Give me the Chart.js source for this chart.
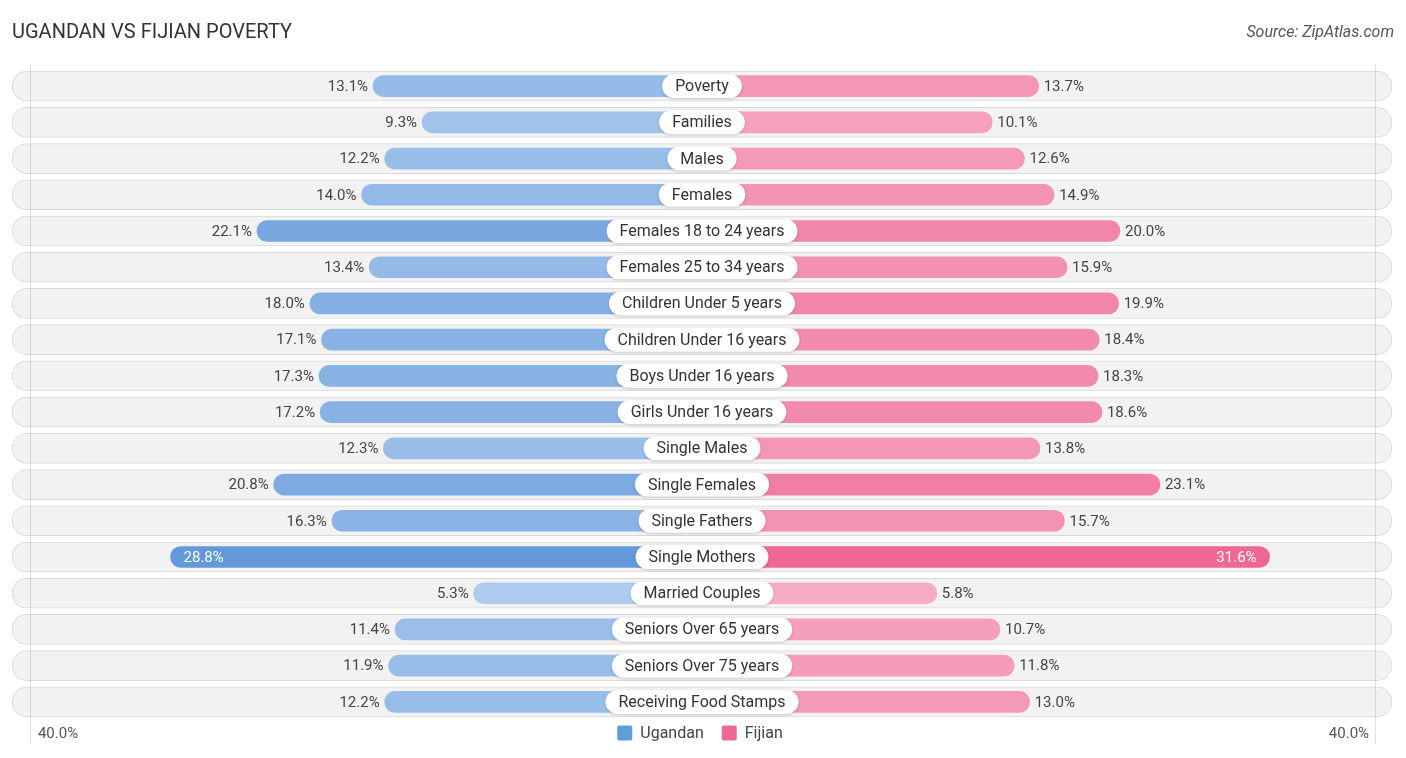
<!DOCTYPE html>
<html>
<head>
<meta charset="utf-8">
<script src="https://cdn.jsdelivr.net/npm/chart.js@4.4.1/dist/chart.umd.min.js"></script>
<style>
  html, body { margin: 0; padding: 0; background: #ffffff; }
  #wrap { width: 1406px; height: 758px; position: relative; }
  canvas { display: block; }
</style>
</head>
<body>
<div id="wrap"><canvas id="c" width="1406" height="758"></canvas></div>
<script>
const titleText = 'UGANDAN VS FIJIAN POVERTY';
const sourceText = 'Source: ZipAtlas.com';
const categories = ['Poverty', 'Families', 'Males', 'Females', 'Females 18 to 24 years', 'Females 25 to 34 years',
  'Children Under 5 years', 'Children Under 16 years', 'Boys Under 16 years', 'Girls Under 16 years',
  'Single Males', 'Single Females', 'Single Fathers', 'Single Mothers', 'Married Couples',
  'Seniors Over 65 years', 'Seniors Over 75 years', 'Receiving Food Stamps'];
const seriesNames = ['Ugandan', 'Fijian'];
const ugandan = [13.1, 9.3, 12.2, 14.0, 22.1, 13.4, 18.0, 17.1, 17.3, 17.2, 12.3, 20.8, 16.3, 28.8, 5.3, 11.4, 11.9, 12.2];
const fijian = [13.7, 10.1, 12.6, 14.9, 20.0, 15.9, 19.9, 18.4, 18.3, 18.6, 13.8, 23.1, 15.7, 31.6, 5.8, 10.7, 11.8, 13.0];
const axisMax = 40;
const tickLabels = ['40.0%', '40.0%'];

// layout constants (visual)
const OFFSET = 12.4;   // hidden part of bar under the centre label, in value units
const HALF = 53.49;    // half range of the value axis
const GRID = 52.1;     // position of the faint edge grid lines
const legendColors = ['rgb(98,156,218)', 'rgb(240,103,146)'];

const maxVal = Math.max(...ugandan, ...fijian);
function mix(light, dark, t) {
  const c = light.map((l, i) => Math.round(l + (dark[i] - l) * t));
  return `rgb(${c[0]},${c[1]},${c[2]})`;
}
const blueL = [190, 215, 243], blueD = [90, 147, 216];
const pinkL = [248, 188, 208], pinkD = [239, 103, 146];
const ugColors = ugandan.map(v => mix(blueL, blueD, v / maxVal));
const fjColors = fijian.map(v => mix(pinkL, pinkD, v / maxVal));

const decorPlugin = {
  id: 'decor',
  afterDatasetsDraw(chart) {
    const ctx = chart.ctx;
    const xs = chart.scales.x, ys = chart.scales.y;
    const area = chart.chartArea;
    const gl = xs.getPixelForValue(-GRID);
    const gr = xs.getPixelForValue(GRID) + 1;
    ctx.save();
    ctx.strokeStyle = 'rgba(0,0,0,0.12)';
    ctx.lineWidth = 1;
    [gl, gr].forEach(x => {
      ctx.beginPath();
      ctx.moveTo(Math.round(x) + 0.5, area.top - 4);
      ctx.lineTo(Math.round(x) + 0.5, area.bottom + 24);
      ctx.stroke();
    });
    ctx.restore();

    const cx = xs.getPixelForValue(0);
    categories.forEach((cat, i) => {
      const y = ys.getPixelForValue(i);
      ctx.save();
      ctx.font = '15px Roboto';
      ctx.textBaseline = 'middle';
      const uv = ugandan[i], fv = fijian[i];
      const ux = xs.getPixelForValue(-(OFFSET + uv));
      const fx = xs.getPixelForValue(OFFSET + fv);
      if (uv > 25) {
        ctx.fillStyle = '#ffffff';
        ctx.textAlign = 'left';
        ctx.fillText(uv.toFixed(1) + '%', ux + 13, y + 1);
      } else {
        ctx.fillStyle = '#444444';
        ctx.textAlign = 'right';
        ctx.fillText(uv.toFixed(1) + '%', ux - 5, y + 1);
      }
      if (fv > 25) {
        ctx.fillStyle = '#ffffff';
        ctx.textAlign = 'right';
        ctx.fillText(fv.toFixed(1) + '%', fx - 13, y + 1);
      } else {
        ctx.fillStyle = '#444444';
        ctx.textAlign = 'left';
        ctx.fillText(fv.toFixed(1) + '%', fx + 5, y + 1);
      }
      ctx.restore();

      ctx.save();
      ctx.font = '16px Roboto';
      const tw = ctx.measureText(cat).width;
      const w = tw + 26, h = 24;
      const x0 = cx - w / 2, y0 = y - h / 2;
      ctx.shadowColor = 'rgba(0,0,0,0.18)';
      ctx.shadowBlur = 3;
      ctx.shadowOffsetY = 1;
      ctx.fillStyle = '#ffffff';
      ctx.beginPath();
      ctx.roundRect(x0, y0, w, h, h / 2);
      ctx.fill();
      ctx.shadowColor = 'transparent';
      ctx.fillStyle = '#333333';
      ctx.textAlign = 'center';
      ctx.textBaseline = 'middle';
      ctx.fillText(cat, cx, y + 1);
      ctx.restore();
    });

    // axis tick labels
    ctx.save();
    ctx.font = '15px Roboto';
    ctx.fillStyle = '#555555';
    ctx.textBaseline = 'middle';
    ctx.textAlign = 'left';
    ctx.fillText(tickLabels[0], gl + 8, 734);
    ctx.textAlign = 'right';
    ctx.fillText(tickLabels[1], gr - 6, 734);
    ctx.restore();

    // legend
    ctx.save();
    ctx.font = '16px Roboto';
    ctx.textBaseline = 'middle';
    ctx.textAlign = 'left';
    const box = 15, gapText = 8, gapItem = 18;
    const widths = seriesNames.map(n => ctx.measureText(n).width);
    const total = widths.reduce((a, w) => a + box + gapText + w, 0) + gapItem * (seriesNames.length - 1);
    let lx = cx - 2 - total / 2;
    const ly = 733;
    seriesNames.forEach((n, i) => {
      ctx.fillStyle = legendColors[i];
      ctx.beginPath();
      ctx.roundRect(lx, ly - box / 2, box, box, 2);
      ctx.fill();
      ctx.fillStyle = '#444444';
      ctx.fillText(n, lx + box + gapText, ly + 1);
      lx += box + gapText + widths[i] + gapItem;
    });
    ctx.restore();

    // title and source
    ctx.save();
    ctx.font = '20px Roboto';
    ctx.fillStyle = '#333333';
    ctx.textBaseline = 'middle';
    ctx.textAlign = 'left';
    ctx.fillText(titleText, 12, 33);
    ctx.font = 'italic 16px Roboto';
    ctx.fillStyle = '#555555';
    ctx.textAlign = 'right';
    ctx.fillText(sourceText, 1394, 33);
    ctx.restore();
  }
};

new Chart(document.getElementById('c'), {
  type: 'bar',
  data: {
    labels: categories,
    datasets: [
      {
        label: seriesNames[0],
        data: ugandan.map(v => [-(OFFSET + v), 0]),
        backgroundColor: ugColors,
        borderRadius: 11,
        borderSkipped: false,
        barThickness: 21,
        grouped: false,
        order: 1
      },
      {
        label: seriesNames[1],
        data: fijian.map(v => [0, OFFSET + v]),
        backgroundColor: fjColors,
        borderRadius: 11,
        borderSkipped: false,
        barThickness: 21,
        grouped: false,
        order: 1
      },
      {
        label: 'rowbg',
        data: categories.map(() => [-HALF, HALF]),
        backgroundColor: '#f2f2f2',
        borderColor: '#dadada',
        borderWidth: 1,
        borderRadius: 15,
        borderSkipped: false,
        barThickness: 30,
        grouped: false,
        order: 5
      }
    ]
  },
  options: {
    indexAxis: 'y',
    responsive: false,
    animation: false,
    layout: { padding: { left: 12, right: 14, top: 68, bottom: 38 } },
    scales: {
      x: { display: false, min: -HALF, max: HALF },
      y: { display: false }
    },
    plugins: {
      tooltip: { enabled: false },
      legend: { display: false }
    }
  },
  plugins: [decorPlugin]
});
</script>
</body>
</html>
